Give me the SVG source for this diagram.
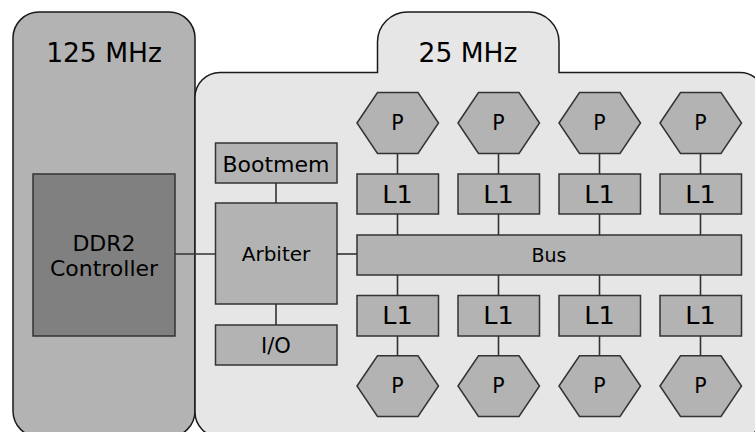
<svg xmlns="http://www.w3.org/2000/svg" width="755" height="432" viewBox="0 0 755 432">
<style>
  .domain { stroke: #1a1a1a; stroke-width: 1.5; }
  .box { fill: #b3b3b3; stroke: #333333; stroke-width: 1.5; }
  .dark { fill: #808080; stroke: #333333; stroke-width: 1.5; }
  .conn line { stroke: #333333; stroke-width: 1.6; }
  text { font-family: "DejaVu Sans", "Liberation Sans", sans-serif; fill: #000000; text-anchor: middle; }
  .title { font-size: 26.5px; }
  .lbl { font-size: 22px; }
  .l1 { font-size: 25.5px; }
  .p { font-size: 20.5px; }
</style>
<rect width="755" height="432" fill="#ffffff"/>
<g id="clk125">
  <rect class="domain" x="13" y="12" width="182" height="425" rx="26" ry="26" fill="#b3b3b3"/>
  <text class="title" x="104" y="61.5">125 MHz</text>
</g>
<g id="clk25">
  <path class="domain" fill="#e6e6e6" d="M 377.5,72.5 L 377.5,42 A 30 30 0 0 1 407.5,12 L 529,12 A 30 30 0 0 1 559,42 L 559,72.5 L 740,72.5 A 25 25 0 0 1 765,97.5 L 765,412 A 25 25 0 0 1 740,437 L 220,437 A 25 25 0 0 1 195,412 L 195,97.5 A 25 25 0 0 1 220,72.5 Z"/>
  <text class="title" x="468" y="61.5">25 MHz</text>
</g>
<g class="conn" id="connectors">
  <line x1="175" y1="254" x2="215" y2="254"/>
  <line x1="337" y1="254" x2="357" y2="254"/>
  <line x1="276" y1="183" x2="276" y2="203"/>
  <line x1="276" y1="304" x2="276" y2="325"/>
  <line x1="397.5" y1="153.5" x2="397.5" y2="174"/>
  <line x1="397.5" y1="214" x2="397.5" y2="235"/>
  <line x1="397.5" y1="275" x2="397.5" y2="295"/>
  <line x1="397.5" y1="336" x2="397.5" y2="356"/>
  <line x1="498.5" y1="153.5" x2="498.5" y2="174"/>
  <line x1="498.5" y1="214" x2="498.5" y2="235"/>
  <line x1="498.5" y1="275" x2="498.5" y2="295"/>
  <line x1="498.5" y1="336" x2="498.5" y2="356"/>
  <line x1="599.5" y1="153.5" x2="599.5" y2="174"/>
  <line x1="599.5" y1="214" x2="599.5" y2="235"/>
  <line x1="599.5" y1="275" x2="599.5" y2="295"/>
  <line x1="599.5" y1="336" x2="599.5" y2="356"/>
  <line x1="700.5" y1="153.5" x2="700.5" y2="174"/>
  <line x1="700.5" y1="214" x2="700.5" y2="235"/>
  <line x1="700.5" y1="275" x2="700.5" y2="295"/>
  <line x1="700.5" y1="336" x2="700.5" y2="356"/>
</g>
<g id="ddr2">
  <rect class="dark" x="33" y="174" width="142" height="162"/>
  <text class="lbl" x="104" y="250.5">DDR2</text>
  <text class="lbl" x="104" y="275.5">Controller</text>
</g>
<g id="bootmem">
  <rect class="box" x="215.5" y="143" width="121.5" height="40"/>
  <text class="lbl" x="276" y="171.5">Bootmem</text>
</g>
<g id="arbiter">
  <rect class="box" x="215.5" y="203" width="121.5" height="101"/>
  <text class="lbl" x="276" y="261" style="font-size:20px">Arbiter</text>
</g>
<g id="io">
  <rect class="box" x="215.5" y="325" width="121.5" height="40"/>
  <text class="lbl" x="276" y="352.5" style="font-size:21px">I/O</text>
</g>
<g id="bus">
  <rect class="box" x="357" y="235" width="384.5" height="40"/>
  <text class="lbl" x="549" y="261.5" style="font-size:19px">Bus</text>
</g>
<g id="p1t"><polygon class="box" points="357,123 377.5,92.5 418,92.5 438.5,123 418,153.5 377.5,153.5"/><text class="p" x="397.5" y="130">P</text></g>
<g id="p2t"><polygon class="box" points="458,123 478.5,92.5 519,92.5 539.5,123 519,153.5 478.5,153.5"/><text class="p" x="498.5" y="130">P</text></g>
<g id="p3t"><polygon class="box" points="559,123 579.5,92.5 620,92.5 640.5,123 620,153.5 579.5,153.5"/><text class="p" x="599.5" y="130">P</text></g>
<g id="p4t"><polygon class="box" points="660,123 680.5,92.5 721,92.5 741.5,123 721,153.5 680.5,153.5"/><text class="p" x="700.5" y="130">P</text></g>
<g id="l1t1"><rect class="box" x="357" y="174" width="81.5" height="40"/><text class="l1" x="397.5" y="203.3">L1</text></g>
<g id="l1t2"><rect class="box" x="458" y="174" width="81.5" height="40"/><text class="l1" x="498.5" y="203.3">L1</text></g>
<g id="l1t3"><rect class="box" x="559" y="174" width="81.5" height="40"/><text class="l1" x="599.5" y="203.3">L1</text></g>
<g id="l1t4"><rect class="box" x="660" y="174" width="81.5" height="40"/><text class="l1" x="700.5" y="203.3">L1</text></g>
<g id="l1b1"><rect class="box" x="357" y="295.5" width="81.5" height="40.5"/><text class="l1" x="397.5" y="324.3">L1</text></g>
<g id="l1b2"><rect class="box" x="458" y="295.5" width="81.5" height="40.5"/><text class="l1" x="498.5" y="324.3">L1</text></g>
<g id="l1b3"><rect class="box" x="559" y="295.5" width="81.5" height="40.5"/><text class="l1" x="599.5" y="324.3">L1</text></g>
<g id="l1b4"><rect class="box" x="660" y="295.5" width="81.5" height="40.5"/><text class="l1" x="700.5" y="324.3">L1</text></g>
<g id="p1b"><polygon class="box" points="357,386 377.5,355.8 418,355.8 438.5,386 418,416.5 377.5,416.5"/><text class="p" x="397.5" y="393.3">P</text></g>
<g id="p2b"><polygon class="box" points="458,386 478.5,355.8 519,355.8 539.5,386 519,416.5 478.5,416.5"/><text class="p" x="498.5" y="393.3">P</text></g>
<g id="p3b"><polygon class="box" points="559,386 579.5,355.8 620,355.8 640.5,386 620,416.5 579.5,416.5"/><text class="p" x="599.5" y="393.3">P</text></g>
<g id="p4b"><polygon class="box" points="660,386 680.5,355.8 721,355.8 741.5,386 721,416.5 680.5,416.5"/><text class="p" x="700.5" y="393.3">P</text></g>
</svg>
